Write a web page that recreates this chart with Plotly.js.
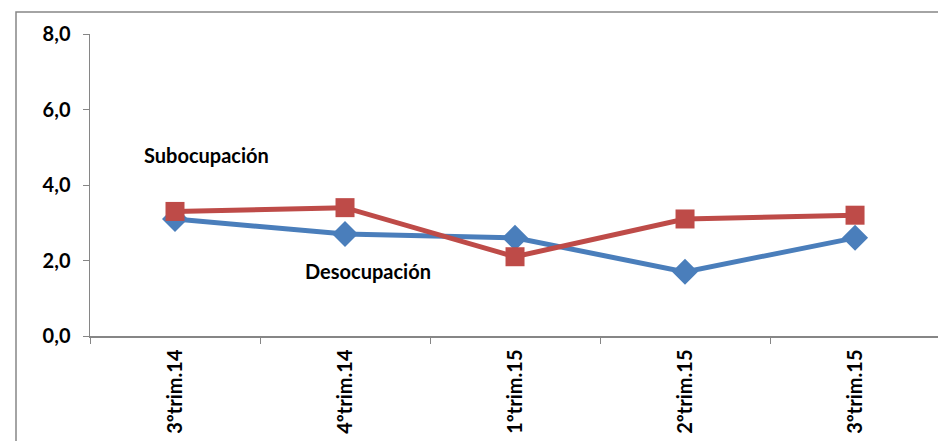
<!DOCTYPE html>
<html>
<head>
<meta charset="utf-8">
<script src="https://cdn.plot.ly/plotly-3.0.1.min.js"></script>
<style>html,body{margin:0;padding:0;background:#fff;}#chart{width:938px;height:441px;}</style>
</head>
<body>
<div id="chart"></div>
<script>
const categories = ["3ºtrim.14", "4ºtrim.14", "1ºtrim.15", "2ºtrim.15", "3ºtrim.15"];
const desocupacion = [3.1, 2.7, 2.6, 1.7, 2.6];
const subocupacion = [3.3, 3.4, 2.1, 3.1, 3.2];
const yTicks = [0, 2, 4, 6, 8];

const font = {family: "Lato, 'Open Sans', sans-serif", size: 20, color: "#000", weight: "bold"};
const xfont = {family: "Lato, 'Open Sans', sans-serif", size: 20, color: "#000", weight: "bold"};

const traces = [
  {x: categories, y: desocupacion, name: "Desocupación", type: "scatter", mode: "lines+markers",
   line: {color: "#4a7ebb", width: 5}, marker: {symbol: "diamond", size: 20, color: "#4a7ebb"}},
  {x: categories, y: subocupacion, name: "Subocupación", type: "scatter", mode: "lines+markers",
   line: {color: "#be4b48", width: 5}, marker: {symbol: "square", size: 19, color: "#be4b48"}}
];

const layout = {
  width: 938, height: 441,
  margin: {l: 90, r: 0, t: 34, b: 105},
  paper_bgcolor: "#fff", plot_bgcolor: "#fff",
  showlegend: false,
  separators: ",.",
  font: font,
  xaxis: {type: "category", range: [-0.5, 4.488], showgrid: false, zeroline: false,
          showline: true, linecolor: "#868686", linewidth: 1.5,
          ticks: "outside", ticklen: 6, tickcolor: "#868686", tickson: "boundaries",
          tickangle: -90, tickfont: xfont, ticklabelstandoff: 4},
  yaxis: {range: [0, 8], tickvals: yTicks, tickformat: ".1f", showgrid: false, zeroline: false,
          showline: true, linecolor: "#868686", linewidth: 1.5,
          ticks: "outside", ticklen: 6, tickcolor: "#868686", tickfont: font, ticklabelstandoff: 8},
  annotations: [
    {text: "Subocupación", xref: "paper", yref: "y", x: (206 - 90) / 848, y: 4.8, xanchor: "center", showarrow: false, font: font},
    {text: "Desocupación", xref: "paper", yref: "y", x: (368 - 90) / 848, y: 1.72, xanchor: "center", showarrow: false, font: font}
  ],
  shapes: [
    {type: "rect", xref: "paper", yref: "paper", x0: -74 / 848, x1: 1.2, y0: -0.6, y1: 1 + 22 / 302,
     line: {color: "#868686", width: 1.5}, fillcolor: "rgba(0,0,0,0)", layer: "below"}
  ]
};

Plotly.newPlot("chart", traces, layout, {displayModeBar: false, staticPlot: true});
</script>
</body>
</html>
